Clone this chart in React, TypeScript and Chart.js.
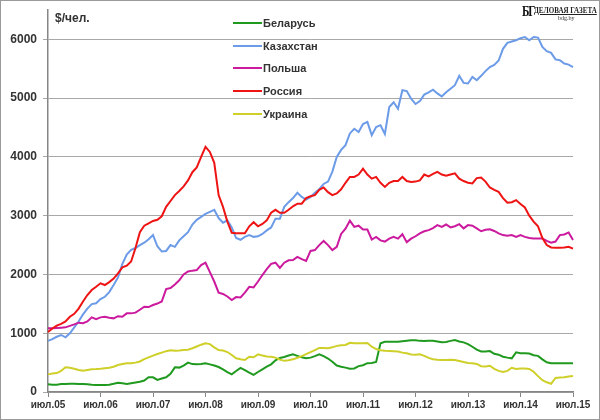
import { useEffect, useRef } from 'react'
import Chart from 'chart.js/auto'

// monthly series, Jul 2005 .. Jul 2015
const yearTicks = ['05', '06', '07', '08', '09', '10', '11', '12', '13', '14', '15']
const monthNames = ['июл', 'авг', 'сен', 'окт', 'ноя', 'дек', 'янв', 'фев', 'мар', 'апр', 'май', 'июн']
const yTicks = [0, 1000, 2000, 3000, 4000, 5000, 6000]

const belarus = [
  131, 122, 125, 135, 138, 140, 140, 138, 136, 130, 122, 119,
  119, 119, 125, 140, 158, 150, 135, 150, 162, 175, 195, 250,
  250, 205, 230, 250, 310, 420, 415, 450, 500, 475, 471, 475,
  488, 470, 450, 425, 385, 340, 300, 357, 410, 374, 330, 292,
  340, 385, 430, 471, 540, 580, 595, 620, 641, 615, 590, 575,
  585, 610, 641, 610, 570, 515, 450, 430, 415, 395, 400, 440,
  455, 490, 493, 510, 830, 855, 855, 855, 855, 865, 872, 880,
  880, 870, 867, 870, 872, 860, 848, 852, 870, 884, 860, 845,
  815, 770, 720, 690, 690, 697, 650, 635, 600, 585, 573, 675,
  660, 658, 655, 625, 615, 556, 505, 490, 488, 488, 488, 488,
  488,
]
const kazakhstan = [
  870, 900, 940, 970, 930, 1000, 1100, 1200, 1320, 1420, 1495, 1510,
  1580, 1620, 1700, 1820, 1950, 2180, 2340, 2420, 2450, 2500, 2540, 2600,
  2670, 2480, 2390, 2400, 2500, 2470, 2580, 2650, 2720, 2850, 2930, 2980,
  3030, 3065, 3100, 2960, 2880, 2920, 2800, 2620, 2590, 2640, 2670, 2640,
  2650, 2690, 2750, 2800, 2950, 2950, 3150, 3230, 3300, 3390, 3320, 3275,
  3320, 3390, 3450, 3540, 3580, 3750, 4000, 4120, 4200, 4400, 4480, 4425,
  4560, 4595, 4370, 4510, 4540, 4390, 4850, 4930, 4820, 5135, 5120, 4990,
  4900, 4950, 5060, 5100, 5145, 5080, 5030, 5100, 5160, 5220, 5380, 5260,
  5250, 5360, 5305, 5380, 5460, 5530, 5565, 5640, 5840, 5940, 5965, 5985,
  6020, 6040, 5985, 6040, 6030, 5870, 5800, 5770, 5660, 5645, 5590, 5570,
  5530,
]
const poland = [
  1083, 1083, 1090, 1095, 1100, 1125, 1150, 1180, 1170, 1200, 1270, 1240,
  1270, 1280, 1265, 1253, 1290, 1280, 1338, 1338, 1350, 1400, 1450, 1445,
  1480, 1505, 1540, 1750, 1770, 1830, 1900, 2000, 2050, 2065, 2075, 2160,
  2200, 2040, 1880, 1690, 1668, 1625, 1565, 1615, 1610, 1690, 1790, 1780,
  1880, 1990, 2090, 2180, 2200, 2110, 2200, 2240, 2245, 2300, 2260, 2230,
  2400, 2415, 2500, 2570, 2500, 2415, 2470, 2690, 2780, 2915, 2810, 2830,
  2765, 2765, 2595, 2640, 2580, 2560, 2610, 2640, 2610, 2685, 2550, 2610,
  2650, 2700, 2735, 2755, 2790, 2840, 2810, 2850, 2800, 2820, 2855, 2785,
  2840, 2830, 2785, 2735, 2760, 2770, 2740, 2700, 2670, 2660, 2670, 2640,
  2670, 2640, 2620, 2610, 2610, 2610, 2570, 2540, 2560, 2670, 2680, 2715,
  2585,
]
const russia = [
  1020, 1080, 1130, 1160, 1200, 1280, 1330, 1420, 1540, 1650, 1735, 1790,
  1850, 1820, 1870, 1930, 2020, 2120, 2150, 2220, 2450, 2720, 2830, 2870,
  2910, 2930, 2990, 3150, 3250, 3350, 3420, 3500, 3600, 3740, 3820, 4000,
  4170, 4085, 3900, 3350, 3150, 2900, 2710, 2700, 2700, 2700, 2820, 2890,
  2820, 2860, 2920, 3050, 3100, 3050, 3050, 3100, 3160, 3205, 3205, 3300,
  3330, 3350, 3440, 3480, 3400, 3350, 3380, 3450, 3560, 3660, 3660, 3700,
  3800, 3700, 3630, 3660, 3560, 3490, 3560, 3590, 3590, 3660, 3590, 3575,
  3580, 3600, 3700, 3670, 3710, 3745, 3700, 3680, 3700, 3720, 3630, 3590,
  3560, 3550, 3640, 3650, 3580, 3480, 3440, 3405, 3300, 3220, 3230, 3265,
  3200, 3140, 3000, 2900, 2820, 2620, 2500, 2460, 2455, 2455, 2460, 2470,
  2440,
]
const ukraine = [
  300, 315, 322, 360, 420, 413, 395, 375, 362, 375, 388, 390,
  395, 403, 412, 430, 458, 475, 488, 488, 500, 520, 560, 590,
  620, 646, 670, 695, 710, 700, 705, 714, 720, 745, 775, 805,
  828, 815, 760, 714, 705, 680, 629, 573, 556, 544, 600, 590,
  640, 620, 605, 600, 585, 550, 530, 540, 556, 583, 610, 645,
  680, 714, 750, 748, 743, 760, 785, 795, 800, 838, 830, 828,
  828, 835, 770, 731, 710, 700, 698, 695, 688, 670, 658, 640,
  635, 641, 615, 580, 556, 548, 544, 545, 550, 545, 527, 510,
  495, 488, 478, 440, 435, 447, 395, 360, 340, 360, 413, 391,
  400, 400, 391, 345, 270, 200, 165, 140, 240, 245, 250, 262,
  272,
]

const seriesNames = ['Беларусь', 'Казахстан', 'Польша', 'Россия', 'Украина']
const seriesColors = ['#1f9a1f', '#6c9be8', '#cc1a9e', '#ee1414', '#cfcf2a']

// one category per month; only the July ones get a label
const labels = belarus.map((_, i) => monthNames[i % 12] + '.' + yearTicks[Math.floor((i + 6) / 12)])

const font = "'Liberation Sans', Arial, sans-serif"
const serif = "'Liberation Serif', 'DejaVu Serif', serif"

export default function App() {
  const ref = useRef<HTMLCanvasElement>(null)
  useEffect(() => {
    if (!ref.current) return
    const values = [belarus, kazakhstan, poland, russia, ukraine]
    const chart = new Chart(ref.current, {
      type: 'line',
      data: {
        labels,
        datasets: values.map((d, i) => ({
          label: seriesNames[i],
          data: d,
          borderColor: seriesColors[i],
          backgroundColor: seriesColors[i],
          borderWidth: 2,
          pointRadius: 0,
          tension: 0,
          order: values.length - i,
        })),
      },
      options: {
        animation: false,
        responsive: false,
        events: [],
        layout: { padding: { top: 9, right: 26, left: 0, bottom: 0 } },
        plugins: { legend: { display: false }, tooltip: { enabled: false } },
        scales: {
          x: {
            type: 'category',
            offset: false,
            border: { color: '#868686', width: 1.5 },
            grid: {
              drawOnChartArea: false,
              drawTicks: true,
              tickLength: 5,
              tickColor: (c: any) => (c.index % 12 === 0 ? '#868686' : 'rgba(0,0,0,0)'),
            },
            ticks: {
              autoSkip: false,
              maxRotation: 0,
              padding: 2,
              color: '#333',
              font: { family: font, size: 10, weight: 'bold' },
              callback: (_v: any, i: number) => (i % 12 === 0 ? labels[i] : ''),
            },
            afterFit: (s: any) => { s.height = 27 },
          },
          y: {
            min: 0,
            max: 6500,
            border: { color: '#868686', width: 1.5 },
            grid: { color: '#a8a8a8', lineWidth: 1, tickLength: 5 },
            ticks: {
              padding: 6,
              color: '#333',
              font: { family: font, size: 12, weight: 'bold' },
              callback: (v: any) => String(v),
            },
            afterBuildTicks: (s: any) => { s.ticks = yTicks.map((v) => ({ value: v })) },
            // the top tick is not at the top edge, so drop the label padding there
            afterFit: (s: any) => { s.width = 47; s.paddingTop = 0 },
          },
        },
      },
    })
    return () => chart.destroy()
  }, [])

  return (
    <div style={{ position: 'relative', width: 600, height: 420, boxSizing: 'border-box', border: '1px solid #9a9a9a', background: '#fff', fontFamily: font }}>
      <style>{'body{margin:0}'}</style>
      <canvas ref={ref} width={598} height={418} style={{ display: 'block' }} />
      <div style={{ position: 'absolute', left: 54, top: 10, fontSize: 12, fontWeight: 'bold', color: '#333' }}>$/чел.</div>
      {seriesNames.map((n, i) => (
        <div key={n} style={{ position: 'absolute', left: 232, top: 14 + i * 22.7, height: 16, display: 'flex', alignItems: 'center' }}>
          <div style={{ width: 29, height: 2, background: seriesColors[i] }} />
          <div style={{ fontSize: 11, fontWeight: 'bold', color: '#333', marginLeft: 1 }}>{n}</div>
        </div>
      ))}
      <div style={{ position: 'absolute', left: 521, top: 3, fontFamily: serif, fontSize: 15, fontWeight: 'bold', lineHeight: '15px', letterSpacing: -1.5, whiteSpace: 'nowrap', transform: 'scaleX(0.75)', transformOrigin: 'left top', color: '#111' }}>БГ</div>
      <div style={{ position: 'absolute', left: 533, top: 5, fontFamily: serif, fontSize: 8, fontWeight: 'bold', lineHeight: '9px', whiteSpace: 'nowrap', textDecoration: 'underline', transform: 'scaleX(0.88)', transformOrigin: 'left top', color: '#222' }}>ДЕЛОВАЯ ГАЗЕТА</div>
      <div style={{ position: 'absolute', left: 557, top: 14, fontFamily: serif, fontSize: 6, lineHeight: '7px', whiteSpace: 'nowrap', color: '#333' }}>bdg.by</div>
    </div>
  )
}
